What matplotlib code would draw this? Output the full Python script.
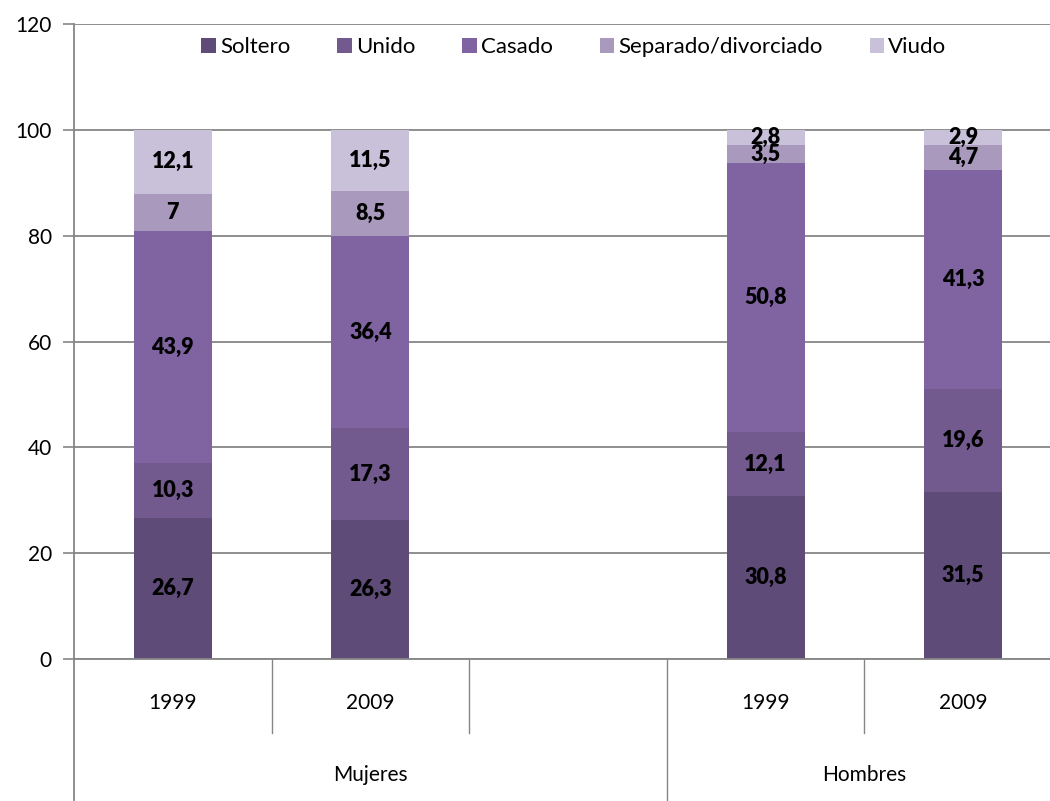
import matplotlib.pyplot as plt
from matplotlib.patches import Patch
from matplotlib.lines import Line2D

plt.rcParams['font.family'] = ['Lato', 'DejaVu Sans']

# data
years = ['1999', '2009', '', '1999', '2009']
groups = ['Mujeres', 'Hombres']
series = ['Soltero', 'Unido', 'Casado', 'Separado/divorciado', 'Viudo']
soltero = [26.7, 26.3, None, 30.8, 31.5]
unido = [10.3, 17.3, None, 12.1, 19.6]
casado = [43.9, 36.4, None, 50.8, 41.3]
separado = [7, 8.5, None, 3.5, 4.7]
viudo = [12.1, 11.5, None, 2.8, 2.9]
colors = ['#5f4b78', '#725a8e', '#8064a2', '#a899bd', '#c9c0da']

fig = plt.figure(figsize=(10.5, 8.01), dpi=100)
ax = fig.add_axes([74 / 1050, 142 / 801, 988 / 1050, 635 / 801])

grid_c = '#868686'
x_all = list(range(len(years)))
bottoms = [0.0] * len(years)
for vals, col in zip([soltero, unido, casado, separado, viudo], colors):
    xs = [x for x, v in zip(x_all, vals) if v is not None]
    vs = [v for v in vals if v is not None]
    bs = [bottoms[x] for x in xs]
    bars = ax.bar(xs, vs, bottom=bs, width=0.395, color=col, zorder=3)
    labels = [('%g' % v).replace('.', ',') for v in vs]
    ax.bar_label(bars, labels=labels, label_type='center', fontsize=15.5,
                 fontweight='heavy', color='black', zorder=4)
    for x, v in zip(xs, vs):
        bottoms[x] += v

ax.set_xlim(-0.5, 4.5)
ax.set_ylim(0, 120)
ax.set_yticks(range(0, 121, 20))
ax.tick_params(axis='y', labelsize=15, length=8, width=1.2, color=grid_c, pad=8)
ax.set_xticks([])
ax.yaxis.grid(True, color=grid_c, lw=1.3, zorder=0)
for s in ['top', 'right']:
    ax.spines[s].set_visible(False)
ax.spines['left'].set_visible(False)
ax.spines['bottom'].set_color(grid_c)
ax.spines['bottom'].set_linewidth(1.3)
ax.spines['bottom'].set_zorder(5)

# left axis line running down through category area
tr = ax.get_xaxis_transform()
ax.add_line(Line2D([-0.5, -0.5], [-0.222, 1.0], transform=tr, color=grid_c,
                   lw=1.3, clip_on=False, zorder=5))
ax.add_line(Line2D([2.5, 2.5], [-0.222, 0], transform=tr, color=grid_c,
                   lw=1.0, clip_on=False))
for xd in [0.5, 1.5, 3.5]:
    ax.add_line(Line2D([xd, xd], [-0.1165, 0], transform=tr, color=grid_c,
                       lw=1.0, clip_on=False))

for x, yr in zip(x_all, years):
    if yr:
        ax.text(x, -0.069, yr, transform=tr, ha='center', va='center', fontsize=15)
ax.text(1.0, -0.183, groups[0], transform=tr, ha='center', va='center', fontsize=15)
ax.text(3.5, -0.183, groups[1], transform=tr, ha='center', va='center', fontsize=15)

handles = [Patch(facecolor=c, edgecolor='none') for c in colors]
fig.legend(handles, series, loc='center', bbox_to_anchor=(574 / 1050, 1 - 47 / 801),
           ncol=5, frameon=False, fontsize=16, handlelength=0.65, handleheight=0.65,
           handletextpad=0.2, columnspacing=2.1)

fig.savefig('out.png', dpi=100)
